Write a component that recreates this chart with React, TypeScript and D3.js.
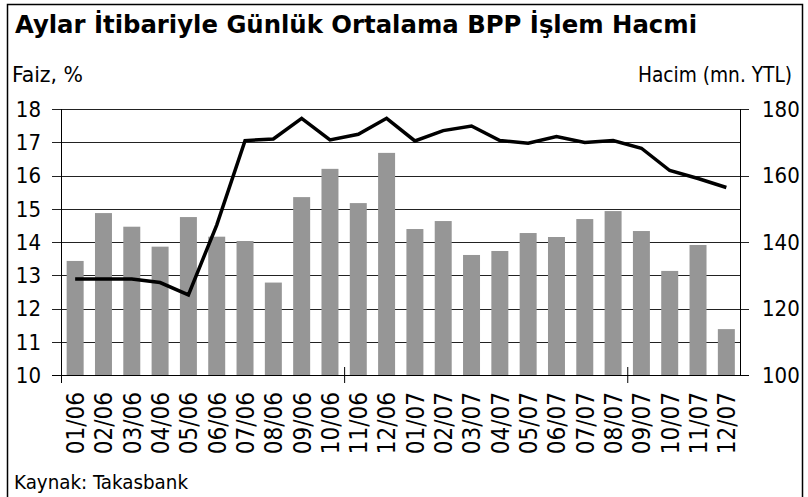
import React from 'react';
import * as d3 from 'd3';

// monthly categories (MM/YY)
const months = [
  '01/06', '02/06', '03/06', '04/06', '05/06', '06/06', '07/06', '08/06', '09/06', '10/06', '11/06', '12/06',
  '01/07', '02/07', '03/07', '04/07', '05/07', '06/07', '07/07', '08/07', '09/07', '10/07', '11/07', '12/07',
];
// daily avg volume, mn YTL (right axis, bars)
const volume = [
  134.3, 148.7, 144.6, 138.6, 147.5, 141.6, 140.3, 127.8, 153.5, 162.0, 151.7, 166.8,
  143.9, 146.3, 136.1, 137.3, 142.7, 141.5, 146.9, 149.3, 143.3, 131.3, 139.1, 113.8,
];
// interest rate, % (left axis, line)
const rate = [
  12.89, 12.89, 12.89, 12.78, 12.41, 14.51, 17.05, 17.1, 17.72, 17.07, 17.24, 17.72,
  17.04, 17.35, 17.49, 17.05, 16.97, 17.17, 16.99, 17.05, 16.82, 16.15, 15.91, 15.64,
];
const leftTicks = [10, 11, 12, 13, 14, 15, 16, 17, 18];
const rightTicks = [100, 120, 140, 160, 180];

const W = 808;
const H = 497;
const FONT = "Tahoma, 'DejaVu Sans Condensed', 'DejaVu Sans', sans-serif";

export default function App() {
  const plot = { left: 61, right: 740.5, top: 109, bottom: 375 };

  const x = d3.scaleBand<string>()
    .domain(months)
    .range([plot.left, plot.right])
    .paddingInner(0.4)
    .paddingOuter(0.2);
  const yL = d3.scaleLinear().domain([10, 18]).range([plot.bottom, plot.top]);
  const yR = d3.scaleLinear().domain([100, 180]).range([plot.bottom, plot.top]);

  const line = d3.line<number>()
    .x((_, i) => (x(months[i]) as number) + x.bandwidth() / 2)
    .y((d) => yL(d));

  // x ticks every 10 categories, on the category boundary
  const step = x.step();
  const xTickIdx = [10, 20];

  return (
    <svg width={W} height={H} style={{ position: 'absolute', left: 0, top: 0, background: '#fff' }}
      fontFamily={FONT}>
      {/* frame */}
      <path d={`M7.5,${H} V4.5 H802.5 V${H}`} fill="none" stroke="#000" strokeWidth={1.5} />

      <text x={15} y={33} fontSize={25} fontWeight="bold" textLength={682} lengthAdjust="spacingAndGlyphs">
        Aylar İtibariyle Günlük Ortalama BPP İşlem Hacmi
      </text>
      <text x={12} y={82} fontSize={21} textLength={71} lengthAdjust="spacingAndGlyphs">Faiz, %</text>
      <text x={792} y={82} fontSize={21} textAnchor="end" textLength={154} lengthAdjust="spacingAndGlyphs">
        Hacim (mn. YTL)
      </text>

      {/* gridlines + left ticks */}
      {leftTicks.map((t) => (
        <line key={'g' + t} x1={52} x2={plot.right} y1={Math.round(yL(t)) + 0.5} y2={Math.round(yL(t)) + 0.5}
          stroke="#222" strokeWidth={1} />
      ))}
      {rightTicks.map((t) => (
        <line key={'r' + t} x1={plot.right} x2={749} y1={Math.round(yR(t)) + 0.5} y2={Math.round(yR(t)) + 0.5}
          stroke="#222" strokeWidth={1} />
      ))}

      {/* bars */}
      {volume.map((v, i) => (
        <rect key={months[i]} x={x(months[i])} y={yR(v)} width={x.bandwidth()} height={plot.bottom - yR(v)}
          fill="#969696" />
      ))}

      {/* axes */}
      <line x1={plot.left + 0.5} x2={plot.left + 0.5} y1={plot.top} y2={383} stroke="#000" />
      <line x1={plot.right} x2={plot.right} y1={plot.top} y2={plot.bottom} stroke="#000" />
      <line x1={52} x2={749} y1={plot.bottom + 0.5} y2={plot.bottom + 0.5} stroke="#000" />
      {xTickIdx.map((k) => (
        <line key={'xt' + k} x1={plot.left + k * step + 0.5} x2={plot.left + k * step + 0.5} y1={367} y2={383}
          stroke="#000" />
      ))}

      {/* rate line */}
      <path d={line(rate) ?? ''} fill="none" stroke="#000" strokeWidth={3.5} strokeLinejoin="miter" />

      {/* tick labels */}
      {leftTicks.map((t) => (
        <text key={'lt' + t} x={41} y={yL(t)} dy="0.36em" fontSize={22} textAnchor="end">{t}</text>
      ))}
      {rightTicks.map((t) => (
        <text key={'rt' + t} x={762} y={yR(t)} dy="0.36em" fontSize={22}>{t}</text>
      ))}
      {months.map((m) => (
        <text key={'xl' + m} transform={`translate(${(x(m) as number) + x.bandwidth() / 2},392) rotate(-90)`}
          dy="0.37em" fontSize={24} textAnchor="end">{m}</text>
      ))}

      <text x={14} y={489} fontSize={19} textLength={174} lengthAdjust="spacingAndGlyphs">Kaynak: Takasbank</text>
    </svg>
  );
}
